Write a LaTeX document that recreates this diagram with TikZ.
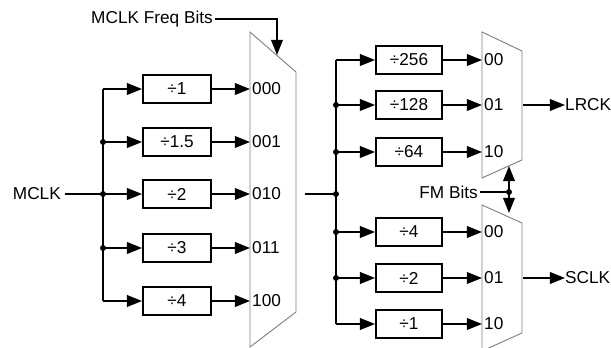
\documentclass[tikz,border=0pt]{standalone}
\usepackage{fontspec}
\setmainfont{Liberation Sans}
\usetikzlibrary{arrows.meta}
\tikzset{
	divbox/.style={draw, line width=1.6pt, minimum height=0.84cm, inner sep=0pt, font=\fontsize{14.7}{17}\selectfont},
	wire/.style={line width=1.6pt},
	arr/.style={line width=1.6pt, -{Triangle[length=13pt,width=10pt]}},
	muxline/.style={draw=gray, line width=0.8pt},
	lbl/.style={inner sep=0pt, font=\fontsize{14.7}{17}\selectfont},
	jdot/.style={circle, fill, inner sep=0pt, minimum size=0.18cm},
}
\begin{document}
\begin{tikzpicture}[x=0.03cm, y=-0.03cm]
	\useasboundingbox (0,0) rectangle (611,348);

	\draw [muxline] (250,32) -- (296,72) -- (296,312) -- (250,347) -- cycle;
	\draw [muxline] (482,32) -- (522,51) -- (522,160) -- (482,178) -- cycle;
	\draw [muxline] (482,205) -- (522,223) -- (522,333) -- (482,351) -- cycle;

	\node (d1) at (177,89) [divbox, minimum width=2.04cm] {÷1};
	\node (d15) at (177,142) [divbox, minimum width=2.04cm] {÷1.5};
	\node (d2) at (177,194) [divbox, minimum width=2.04cm] {÷2};
	\node (d3) at (177,248) [divbox, minimum width=2.04cm] {÷3};
	\node (d4) at (177,301) [divbox, minimum width=2.04cm] {÷4};

	\node (r256) at (409,60) [divbox, minimum width=1.98cm] {÷256};
	\node (r128) at (409,105) [divbox, minimum width=1.98cm] {÷128};
	\node (r64) at (409,152) [divbox, minimum width=1.98cm] {÷64};
	\node (s4) at (409,232) [divbox, minimum width=1.98cm] {÷4};
	\node (s2) at (409,278) [divbox, minimum width=1.98cm] {÷2};
	\node (s1) at (409,324) [divbox, minimum width=1.98cm] {÷1};

	\node (i000) at (252,89) [lbl, anchor=west] {000};
	\node (i001) at (252,142) [lbl, anchor=west] {001};
	\node (i010) at (252,194) [lbl, anchor=west] {010};
	\node (i011) at (252,248) [lbl, anchor=west] {011};
	\node (i100) at (252,301) [lbl, anchor=west] {100};
	\node (l00) at (484,60) [lbl, anchor=west] {00};
	\node (l01) at (484,105) [lbl, anchor=west] {01};
	\node (l10) at (484,152) [lbl, anchor=west] {10};
	\node (k00) at (484,232) [lbl, anchor=west] {00};
	\node (k01) at (484,278) [lbl, anchor=west] {01};
	\node (k10) at (484,324) [lbl, anchor=west] {10};

	\node (mclk) at (61,194) [lbl, anchor=east] {MCLK};
	\node (freq) at (213,19) [lbl, anchor=east] {MCLK Freq Bits};
	\node (fm) at (478,192) [lbl, anchor=east] {FM Bits};
	\node (lrck) at (565,105) [lbl, anchor=west] {LRCK};
	\node (sclk) at (565,278) [lbl, anchor=west] {SCLK};

	\coordinate (b1) at (103,89);
	\coordinate (b2) at (103,142);
	\coordinate (b3) at (103,194);
	\coordinate (b4) at (103,248);
	\coordinate (b5) at (103,301);
	\coordinate (c1) at (336,60);
	\coordinate (c2) at (336,105);
	\coordinate (c3) at (336,152);
	\coordinate (c4) at (336,194);
	\coordinate (c5) at (336,232);
	\coordinate (c6) at (336,278);
	\coordinate (c7) at (336,324);
	\coordinate (mout) at (305,194);
	\coordinate (sel) at (277,55);
	\coordinate (fmj) at (509,192);
	\coordinate (fmup) at (509,166);
	\coordinate (fmdn) at (509,213);

	\draw [wire] (b1) -- (b5);
	\draw [wire] (c1) -- (c7);
	\draw [wire] ([xshift=0.12cm]mclk.east) -- (b3);
	\draw [wire] (mout) -- (c4);
	\draw [arr] ([xshift=0.06cm]freq.east) -| (sel);
	\draw [wire] ([xshift=0.06cm]fm.east) -- (fmj);
	\draw [arr] (fmj) -- (fmup);
	\draw [arr] (fmj) -- (fmdn);

	\foreach \b/\d/\m in {b1/d1/i000, b2/d15/i001, b3/d2/i010, b4/d3/i011, b5/d4/i100, c1/r256/l00, c2/r128/l01, c3/r64/l10, c5/s4/k00, c6/s2/k01, c7/s1/k10} {
		\draw [arr] (\b) -- (\d.west);
		\draw [arr] (\d.east) -- ([xshift=-0.06cm]\m.west);
	}

	\draw [arr] (523,105) -- (lrck.west);
	\draw [arr] (523,278) -- (sclk.west);

	\foreach \j in {b2, b3, b4, c2, c3, c4, c5, c6, fmj}
		\node at (\j) [jdot] {};
\end{tikzpicture}
\end{document}
